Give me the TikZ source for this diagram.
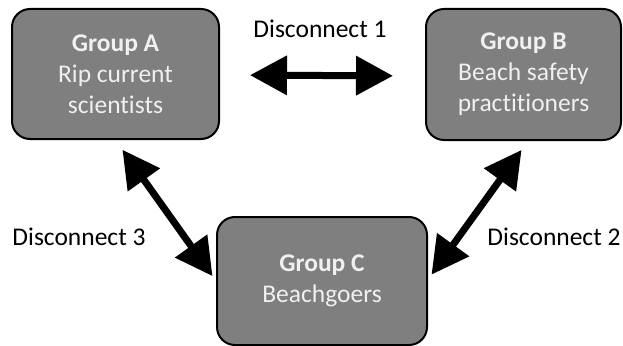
\documentclass[tikz,border=0pt]{standalone}
\usepackage{fontspec}
\setmainfont[Ligatures=NoCommon]{Carlito}
\usetikzlibrary{arrows.meta}
\definecolor{boxfill}{HTML}{7F7F7F}
\definecolor{boxtext}{HTML}{F0F0F0}
\tikzset{
  grp/.style={draw=black, line width=2pt, fill=boxfill, rounded corners=18pt,
    text=boxtext, align=center, inner sep=0pt,
    font=\fontsize{25.5}{31}\selectfont},
  lbl/.style={text=black, inner sep=0pt, font=\fontsize{25.5}{31}\selectfont},
  link/.style={line width=7pt, black,
    {Triangle[length=37pt,width=38pt]}-{Triangle[length=37pt,width=38pt]}}
}
\begin{document}
\begin{tikzpicture}[x=1pt,y=-1pt]
\useasboundingbox (0,0) rectangle (623,345);
\node[grp, minimum width=207pt, minimum height=130pt] (A) at (115.5,74)
  {\textbf{Group A}\\Rip current\\scientists};
\node[grp, minimum width=195pt, minimum height=131pt] (B) at (523.5,74.5)
  {\textbf{Group B}\\Beach safety\\practitioners};
\node[grp, minimum width=210pt, minimum height=128pt] (C) at (322,281)
  {\textbf{Group C}\\Beachgoers};
\node[lbl] (d1) at (320,29) {Disconnect 1};
\node[lbl] (d3) at (79,237) {Disconnect 3};
\node[lbl] (d2) at (554,237) {Disconnect 2};
\draw[link, shorten <=30pt, shorten >=32pt] ([yshift=-1pt]A.east) -- ([yshift=-1.5pt]B.west);
\draw[link, shorten <=12pt, shorten >=6pt] (A.south) -- (C.west);
\draw[link, shorten <=6pt, shorten >=11pt] ([yshift=1.5pt]C.east) -- ([xshift=4.5pt]B.south);
\end{tikzpicture}
\end{document}
